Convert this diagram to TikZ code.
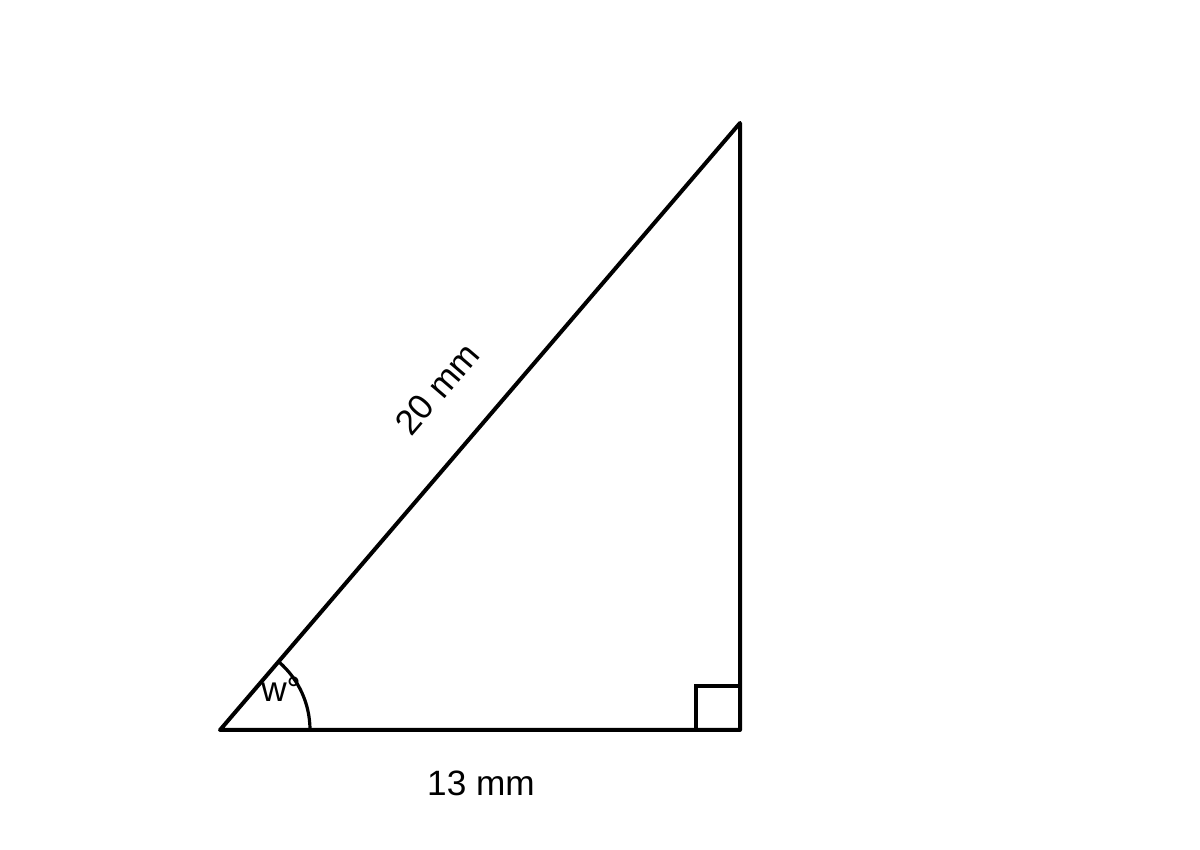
\documentclass[tikz,border=0pt]{standalone}
\usepackage{fontspec}
\setmainfont{Liberation Sans}
\usetikzlibrary{calc}

\begin{document}
\begin{tikzpicture}[
    x=0.5pt, y=0.5pt,
    side/.style={line width=2pt, line join=round, line cap=round},
    anglemark/.style={line width=1.6pt},
    lbl/.style={font=\fontsize{17.6}{21}\selectfont, inner sep=0pt}
]
    \useasboundingbox (0,0) rectangle (1200,850);

    % Corners
    \coordinate (A) at (220,120);
    \coordinate (B) at (740,120);
    \coordinate (C) at (740,727);

    % Triangle
    \draw[side] (A) -- (B) -- (C) -- cycle;

    % Right angle and angle arc
    \draw[anglemark] ($(B)+(-44,0)$) -- ++(0,44) -- ++(44,0);
    \draw[anglemark] ($(A)+(90,0)$) arc[start angle=0, end angle=49.4, radius=90];

    % Labels
    \node[lbl] (base) at (481,67) {13 mm};
    \node[lbl, rotate=49.4] (hyp) at (437,461) {20 mm};
    \node[lbl] (ang) at (281,161) {w°};
\end{tikzpicture}
\end{document}
